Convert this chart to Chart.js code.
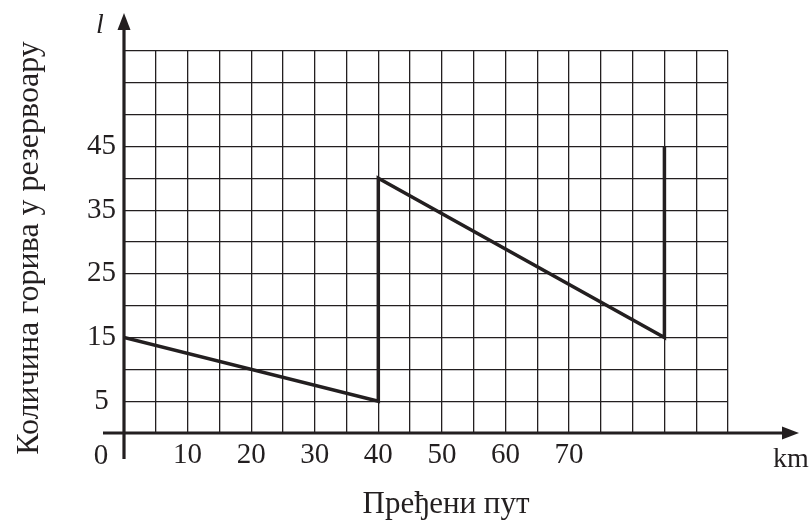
<!DOCTYPE html>
<html>
<head>
<meta charset="utf-8">
<script src="https://cdn.jsdelivr.net/npm/chart.js@4"></script>
<style>
  html, body { margin: 0; padding: 0; background: #fff; }
  #wrap { width: 810px; height: 525px; }
</style>
</head>
<body>
<div id="wrap"><canvas id="chart" width="810" height="525"></canvas></div>
<script>
// distance travelled (km) and fuel in tank (l)
const distance = [0, 40, 40, 85, 85];
const fuel = [15, 5, 40, 15, 45];

const xLabels = [10, 20, 30, 40, 50, 60, 70];
const yLabels = [5, 15, 25, 35, 45];

const xTitle = 'Пређени пут';
const yTitle = 'Количина горива у резервоару';

const ink = '#231f20';
const font = 'Liberation Serif';

// axes with arrows, plus the loose labels (0, l, km) and titles
const axesPlugin = {
    id: 'axes',
    afterDraw(chart) {
        const { ctx, chartArea } = chart;
        const x0 = chartArea.left;
        const y0 = chartArea.bottom;

        ctx.save();
        ctx.strokeStyle = ink;
        ctx.fillStyle = ink;
        ctx.lineWidth = 3.2;

        // y axis
        ctx.beginPath();
        ctx.moveTo(x0, y0 + 26);
        ctx.lineTo(x0, 26);
        ctx.stroke();
        ctx.beginPath();
        ctx.moveTo(x0, 13);
        ctx.lineTo(x0 - 6.5, 30);
        ctx.lineTo(x0 + 6.5, 30);
        ctx.closePath();
        ctx.fill();

        // x axis
        ctx.beginPath();
        ctx.moveTo(x0 - 21, y0);
        ctx.lineTo(785, y0);
        ctx.stroke();
        ctx.beginPath();
        ctx.moveTo(799, y0);
        ctx.lineTo(782, y0 - 6.5);
        ctx.lineTo(782, y0 + 6.5);
        ctx.closePath();
        ctx.fill();

        ctx.textAlign = 'center';
        ctx.textBaseline = 'alphabetic';
        ctx.font = `29px "${font}"`;
        ctx.fillText('0', 101, 464);
        ctx.font = `28px "${font}"`;
        ctx.fillText('km', 791, 467);
        ctx.font = `31px "${font}"`;
        ctx.fillText(xTitle, 446, 513);

        ctx.font = `italic 28px "${font}"`;
        ctx.fillText('l', 100, 33);

        ctx.font = `32px "${font}"`;
        ctx.translate(38, 248);
        ctx.rotate(-Math.PI / 2);
        ctx.fillText(yTitle, 0, 0);
        ctx.restore();
    }
};

new Chart(document.getElementById('chart'), {
    type: 'scatter',
    data: {
        datasets: [{
            data: distance.map((d, i) => ({ x: d, y: fuel[i] })),
            showLine: true,
            borderColor: ink,
            borderWidth: 3.5,
            pointRadius: 0,
            fill: false,
        }],
    },
    options: {
        responsive: false,
        animation: false,
        layout: { padding: { top: 51, right: 82, left: 0, bottom: 0 } },
        plugins: {
            legend: { display: false },
            tooltip: { enabled: false },
        },
        scales: {
            x: {
                type: 'linear',
                min: 0,
                max: 95,
                afterFit: (scale) => { scale.height = 92; },
                grid: { color: ink, lineWidth: 1.3, drawTicks: false },
                border: { display: false },
                ticks: {
                    stepSize: 5,
                    maxTicksLimit: 100,
                    autoSkip: false,
                    maxRotation: 0,
                    padding: 5,
                    color: ink,
                    font: { family: font, size: 29 },
                    callback: (v) => xLabels.includes(v) ? String(v) : '',
                },
            },
            y: {
                type: 'linear',
                min: 0,
                max: 60,
                afterFit: (scale) => { scale.width = 124; },
                grid: { color: ink, lineWidth: 1.3, drawTicks: false },
                border: { display: false },
                ticks: {
                    stepSize: 5,
                    maxTicksLimit: 100,
                    autoSkip: false,
                    padding: 8,
                    crossAlign: 'center',
                    color: ink,
                    font: { family: font, size: 29 },
                    callback: (v) => yLabels.includes(v) ? String(v) : '',
                },
            },
        },
    },
    plugins: [axesPlugin],
});
</script>
</body>
</html>
